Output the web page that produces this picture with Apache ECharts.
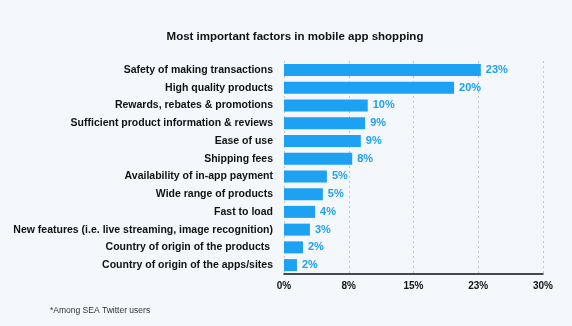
<!DOCTYPE html>
<html><head><meta charset="utf-8">
<script src="https://cdn.jsdelivr.net/npm/echarts@6/dist/echarts.min.js"></script>
<style>html,body{margin:0;padding:0;background:#f4f7fb;}#c{width:572px;height:326px;}</style>
</head><body><div id="c"></div>
<script>
const categories = [
  'Safety of making transactions',
  'High quality products',
  'Rewards, rebates & promotions',
  'Sufficient product information & reviews',
  'Ease of use',
  'Shipping fees',
  'Availability of in-app payment',
  'Wide range of products',
  'Fast to load',
  'New features (i.e. live streaming, image recognition)',
  'Country of origin of the products ',
  'Country of origin of the apps/sites'
];
const values = [22.8, 19.7, 9.7, 9.4, 8.9, 7.9, 4.97, 4.5, 3.6, 3.0, 2.2, 1.5];
const valueLabels = ['23%','20%','10%','9%','9%','8%','5%','5%','4%','3%','2%','2%'];
const tickLabels = ['0%','8%','15%','23%','30%'];

const chart = echarts.init(document.getElementById('c'));
chart.setOption({
  backgroundColor: '#f4f7fb',
  animation: false,
  title: {
    text: 'Most important factors in mobile app shopping',
    left: 290, top: 26, textAlign: 'center',
    textStyle: {fontFamily: 'Liberation Sans', fontSize: 11.5, fontWeight: 'bold', color: '#111'}
  },
  graphic: [{
    type: 'text', left: 50, top: 306,
    style: {text: '*Among SEA Twitter users', font: '8.5px "Liberation Sans"', fill: '#333'}
  }],
  grid: {left: 284, right: 29, top: 61, bottom: 52},
  xAxis: {
    type: 'value', min: 0, max: 30, interval: 7.5,
    axisLine: {show: true, lineStyle: {color: '#111', width: 1.5}},
    axisTick: {show: false},
    splitLine: {show: true, lineStyle: {type: [2, 3], color: '#c4c6ca', width: 1}},
    axisLabel: {
      formatter: (v, i) => tickLabels[i],
      fontFamily: 'Liberation Sans', fontSize: 10, fontWeight: 'bold', color: '#111', margin: 7
    }
  },
  yAxis: {
    type: 'category', data: categories, inverse: true,
    axisLine: {show: false},
    axisTick: {show: false},
    axisLabel: {fontFamily: 'Liberation Sans', fontSize: 10.5, fontWeight: 'bold', color: '#111', margin: 11}
  },
  series: [{
    type: 'bar', data: values, barWidth: 12,
    itemStyle: {color: '#1da1f2'},
    label: {
      show: true, position: 'right', distance: 5,
      formatter: p => valueLabels[p.dataIndex],
      fontFamily: 'Liberation Sans', fontSize: 11, fontWeight: 'bold', color: '#1da1f2'
    }
  }]
});
</script></body></html>
